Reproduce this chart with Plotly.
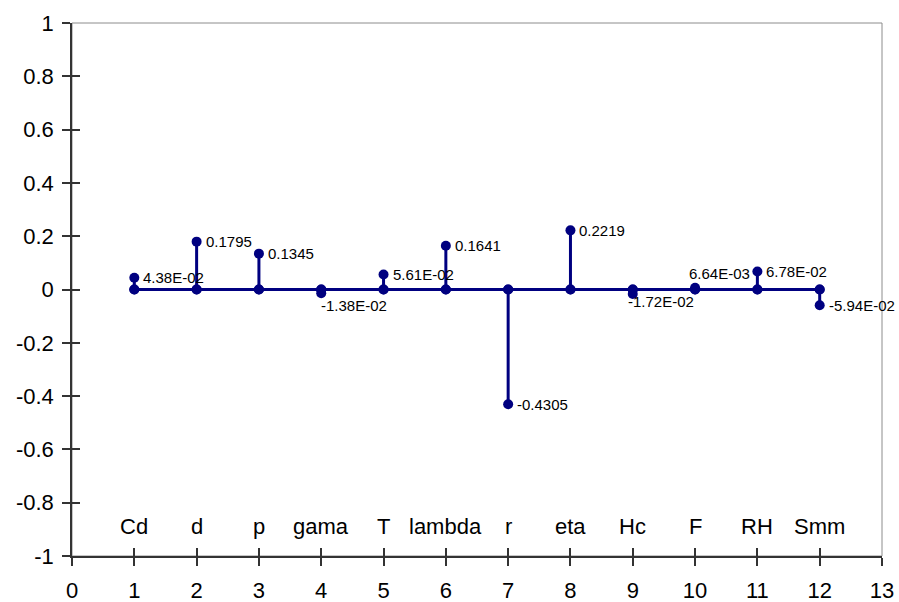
import plotly.graph_objects as go

# ---- data ----
categories = ["Cd", "d", "p", "gama", "T", "lambda", "r", "eta", "Hc", "F", "RH", "Smm"]
positions = [1, 2, 3, 4, 5, 6, 7, 8, 9, 10, 11, 12]
values = [0.0438, 0.1795, 0.1345, -0.0138, 0.0561, 0.1641, -0.4305, 0.2219, -0.0172, 0.00664, 0.0678, -0.0594]
y_tickvals = [-1, -0.8, -0.6, -0.4, -0.2, 0, 0.2, 0.4, 0.6, 0.8, 1]
y_ticktext = ["-1", "-0.8", "-0.6", "-0.4", "-0.2", "0", "0.2", "0.4", "0.6", "0.8", "1"]
x_tickvals = list(range(0, 14))

# ---- styles ----
NAVY = "#000080"
FONT = "Liberation Sans, Arial, sans-serif"
AXIS = "#333333"
# pixel offsets for value labels (dx, dy), default right of the marker
label_offsets = {3: (-2, -12), 8: (-7, -7), 9: (-8, 14)}
category_label_y = -0.89


def fmt(v):
    if abs(v) < 0.1:
        return f"{v:.2E}"
    return f"{v:.4f}".rstrip("0")


fig = go.Figure()

# baseline
fig.add_trace(go.Scatter(
    x=positions, y=[0] * len(positions), mode="lines+markers",
    line=dict(color=NAVY, width=3), marker=dict(color=NAVY, size=10),
    hoverinfo="skip", showlegend=False))

# stems
sx, sy = [], []
for p, v in zip(positions, values):
    sx += [p, p, None]
    sy += [0, v, None]
fig.add_trace(go.Scatter(
    x=sx, y=sy, mode="lines+markers",
    line=dict(color=NAVY, width=3), marker=dict(color=NAVY, size=10),
    showlegend=False))

annotations = []
for i, (p, v) in enumerate(zip(positions, values)):
    dx, dy = label_offsets.get(i, (7, 0))
    annotations.append(dict(
        x=p, y=v, xref="x", yref="y", text=fmt(v), showarrow=False,
        xanchor="left", yanchor="middle", xshift=dx, yshift=dy,
        font=dict(family=FONT, size=15, color="black")))
for p, c in zip(positions, categories):
    annotations.append(dict(
        x=p, y=category_label_y, xref="x", yref="y", text=c, showarrow=False,
        xanchor="center", yanchor="middle",
        font=dict(family=FONT, size=22, color="black")))

fig.update_layout(
    width=899, height=602, autosize=False,
    margin=dict(l=72, r=17, t=23, b=46, autoexpand=False),
    paper_bgcolor="white", plot_bgcolor="white",
    font=dict(family=FONT, size=22, color="black"),
    annotations=annotations,
    shapes=[dict(type="rect", xref="paper", yref="paper", x0=0, y0=0, x1=1, y1=1,
                 line=dict(color="#8c8c8c", width=1), layer="below")],
    xaxis=dict(range=[0, 13], tickvals=x_tickvals, showgrid=False, zeroline=False,
               showline=True, linecolor=AXIS, linewidth=1.5, ticks="outside",
               ticklen=8, tickcolor=AXIS, tickwidth=1.5, ticklabelstandoff=6,
               automargin=False,
               tickfont=dict(family=FONT, size=22, color="black")),
    yaxis=dict(range=[-1, 1], tickvals=y_tickvals, ticktext=y_ticktext,
               showgrid=False, zeroline=False, showline=True, linecolor=AXIS,
               linewidth=1.5, ticks="outside", ticklen=8, tickcolor=AXIS,
               tickwidth=1.5, ticklabelstandoff=4, automargin=False,
               tickfont=dict(family=FONT, size=22, color="black")),
    xaxis2=dict(range=[0, 13], tickvals=x_tickvals, overlaying="x", anchor="y2",
                side="bottom", showticklabels=False, showgrid=False, zeroline=False,
                ticks="inside", ticklen=8, tickcolor=AXIS, tickwidth=1.5,
                automargin=False),
    yaxis2=dict(range=[-1, 1], tickvals=y_tickvals, overlaying="y", anchor="x2",
                side="left", showticklabels=False, showgrid=False, zeroline=False,
                ticks="inside", ticklen=8, tickcolor=AXIS, tickwidth=1.5,
                automargin=False),
)
# invisible trace to activate secondary axes (for crossing ticks)
fig.add_trace(go.Scatter(x=[None], y=[None], xaxis="x2", yaxis="y2",
                         showlegend=False, hoverinfo="skip"))

fig.write_html("out.html")
